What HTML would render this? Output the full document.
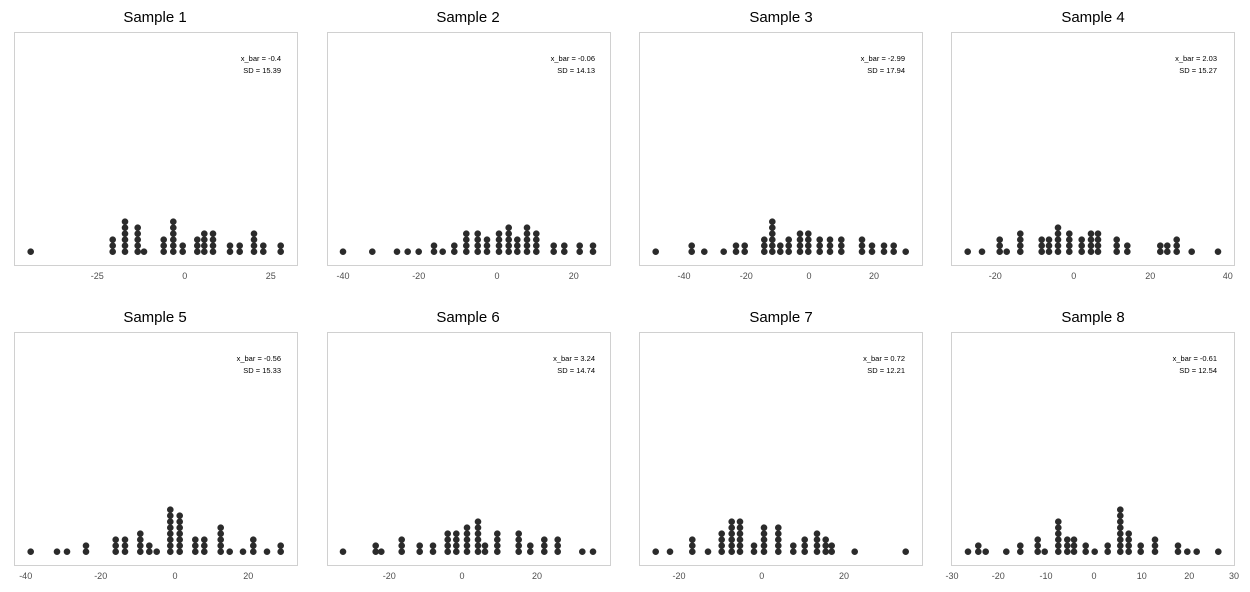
<!DOCTYPE html>
<html><head><meta charset="utf-8"><style>
html,body{margin:0;padding:0;background:#fff;}
svg{display:block;font-family:"Liberation Sans",sans-serif;}
.t{font-size:15px;fill:#000;text-anchor:middle}
.a{font-size:7.5px;fill:#000;text-anchor:end}
.k{font-size:9px;fill:#4d4d4d;text-anchor:middle}
.b{fill:#fff;stroke:#d0d0d0;stroke-width:1}
</style></head><body>
<svg id="s" width="1250" height="592" xmlns="http://www.w3.org/2000/svg">
<rect x="14.5" y="32.5" width="283" height="233" class="b"/>
<rect x="327.5" y="32.5" width="283" height="233" class="b"/>
<rect x="639.5" y="32.5" width="283" height="233" class="b"/>
<rect x="951.5" y="32.5" width="283" height="233" class="b"/>
<rect x="14.5" y="332.5" width="283" height="233" class="b"/>
<rect x="327.5" y="332.5" width="283" height="233" class="b"/>
<rect x="639.5" y="332.5" width="283" height="233" class="b"/>
<rect x="951.5" y="332.5" width="283" height="233" class="b"/>
<text class="t" x="155" y="22">Sample 1</text>
<text class="t" x="468" y="22">Sample 2</text>
<text class="t" x="781" y="22">Sample 3</text>
<text class="t" x="1093" y="22">Sample 4</text>
<text class="t" x="155" y="322">Sample 5</text>
<text class="t" x="468" y="322">Sample 6</text>
<text class="t" x="781" y="322">Sample 7</text>
<text class="t" x="1093" y="322">Sample 8</text>
<text class="a" x="281" y="61">x_bar = -0.4</text><text class="a" x="281" y="73">SD = 15.39</text>
<text class="a" x="595" y="61">x_bar = -0.06</text><text class="a" x="595" y="73">SD = 14.13</text>
<text class="a" x="905" y="61">x_bar = -2.99</text><text class="a" x="905" y="73">SD = 17.94</text>
<text class="a" x="1217" y="61">x_bar = 2.03</text><text class="a" x="1217" y="73">SD = 15.27</text>
<text class="a" x="281" y="361">x_bar = -0.56</text><text class="a" x="281" y="373">SD = 15.33</text>
<text class="a" x="595" y="361">x_bar = 3.24</text><text class="a" x="595" y="373">SD = 14.74</text>
<text class="a" x="905" y="361">x_bar = 0.72</text><text class="a" x="905" y="373">SD = 12.21</text>
<text class="a" x="1217" y="361">x_bar = -0.61</text><text class="a" x="1217" y="373">SD = 12.54</text>
<text class="k" x="97.3" y="279">-25</text><text class="k" x="184.7" y="279">0</text><text class="k" x="270.7" y="279">25</text>
<text class="k" x="343" y="279">-40</text><text class="k" x="418.7" y="279">-20</text><text class="k" x="497" y="279">0</text><text class="k" x="573.7" y="279">20</text>
<text class="k" x="684" y="279">-40</text><text class="k" x="746.3" y="279">-20</text><text class="k" x="809" y="279">0</text><text class="k" x="874" y="279">20</text>
<text class="k" x="995.3" y="279">-20</text><text class="k" x="1073.7" y="279">0</text><text class="k" x="1150.3" y="279">20</text><text class="k" x="1227.7" y="279">40</text>
<text class="k" x="25.7" y="579">-40</text><text class="k" x="100.7" y="579">-20</text><text class="k" x="175" y="579">0</text><text class="k" x="248.3" y="579">20</text>
<text class="k" x="389.3" y="579">-20</text><text class="k" x="462" y="579">0</text><text class="k" x="537" y="579">20</text>
<text class="k" x="679" y="579">-20</text><text class="k" x="761.7" y="579">0</text><text class="k" x="844" y="579">20</text>
<text class="k" x="952" y="579">-30</text><text class="k" x="998.3" y="579">-20</text><text class="k" x="1046" y="579">-10</text><text class="k" x="1094" y="579">0</text><text class="k" x="1141.7" y="579">10</text><text class="k" x="1189.3" y="579">20</text><text class="k" x="1234" y="579">30</text>
<g id="d" fill="#2b2b2b"></g>
</svg>
<script>
(function(){
var rowA=[
[[30.7,1],[112.7,3],[125,6],[137.7,5],[144,1],[163.7,3],[173.3,6],[182.7,2],[197.3,3],[204.3,4],[213,4],[230,2],[239.7,2],[254,4],[263.3,2],[280.7,2]],
[[343,1],[372.3,1],[397,1],[407.7,1],[418.7,1],[434,2],[442.7,1],[454.3,2],[466.3,4],[477.7,4],[487,3],[499,4],[508.7,5],[517.3,3],[527,5],[536.3,4],[553.7,2],[564.3,2],[579.7,2],[593,2]],
[[655.7,1],[691.7,2],[704.3,1],[723.7,1],[736,2],[744.7,2],[764.3,3],[772.3,6],[780.3,2],[788.7,3],[800,4],[808.3,4],[819.7,3],[830,3],[841.3,3],[862,3],[872,2],[884,2],[893.7,2],[905.7,1]],
[[967.7,1],[982,1],[999.7,3],[1006.7,1],[1020.3,4],[1041.7,3],[1049,3],[1058,5],[1069.3,4],[1081.7,3],[1091,4],[1098,4],[1116.7,3],[1127.3,2],[1160.3,2],[1167.3,2],[1176.7,3],[1191.7,1],[1218,1]]];
var rowB=[
[[30.7,1],[57,1],[67,1],[86,2],[115.7,3],[125,3],[140.3,4],[149.3,2],[156.7,1],[170.3,8],[179.7,7],[195.3,3],[204.3,3],[220.7,5],[229.7,1],[243,1],[253.3,3],[267,1],[280.7,2]],
[[343,1],[375.7,2],[381.3,1],[401.7,3],[419.7,2],[433,2],[447.7,4],[456.3,4],[467,5],[478,6],[485,2],[497.3,4],[518.7,4],[530.3,2],[544.3,3],[557.7,3],[582.3,1],[593,1]],
[[655.7,1],[670,1],[692.3,3],[708,1],[721.7,4],[731.7,6],[740,6],[754,2],[764,5],[778.3,5],[793.3,2],[804.7,3],[817,4],[825.7,3],[831.7,2],[854.7,1],[905.7,1]],
[[968,1],[978.3,2],[985.7,1],[1006.3,1],[1020.3,2],[1037.7,3],[1044.7,1],[1058.3,6],[1067.3,3],[1074,3],[1085.7,2],[1094.7,1],[1107.7,2],[1120.3,8],[1128.7,4],[1140.7,2],[1155,3],[1178,2],[1187.3,1],[1196.7,1],[1218.3,1]]];
var g=document.getElementById('d'),ns="http://www.w3.org/2000/svg";
function add(arr,y0){arr.forEach(function(p){p.forEach(function(q){for(var i=0;i<q[1];i++){var c=document.createElementNS(ns,'circle');c.setAttribute('cx',q[0]);c.setAttribute('cy',y0-6*i);c.setAttribute('r','3.3');g.appendChild(c);}});});}
add(rowA,251.7);add(rowB,551.7);
})();
</script>
</body></html>
